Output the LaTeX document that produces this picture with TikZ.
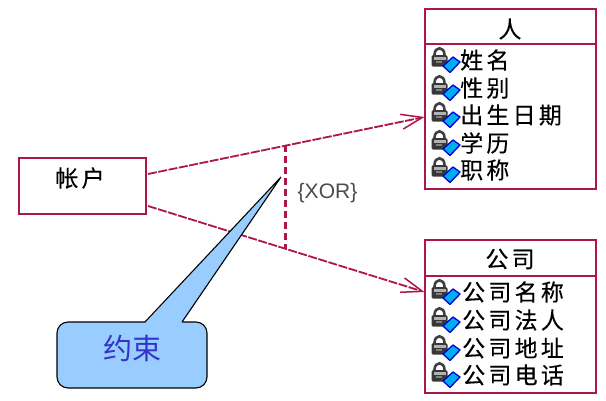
\documentclass[tikz,border=0pt]{standalone}
\usepackage{fontspec}
\usetikzlibrary{arrows.meta,calc}
\newfontfamily\cjk[LetterSpace=14,FakeBold=0.25]{Noto Sans CJK SC}
\newfontfamily\cjkname{Noto Sans CJK SC}
\setmainfont{Liberation Sans}
\definecolor{umlred}{RGB}{172,22,72}
\definecolor{calloutfill}{RGB}{153,204,255}
\definecolor{calloutblue}{RGB}{51,51,204}
\tikzset{
  x=1pt,y=-1pt,
  umlbox/.style={draw=umlred,line width=2pt,fill=white,inner sep=0pt,outer sep=0pt},
  assoc/.style={draw=umlred,line width=1.8pt,dash pattern=on 9pt off 1.5pt,-{Straight Barb[length=21pt,width=15pt,line width=1.5pt]}},
  xorline/.style={draw=umlred,line width=2.2pt,dash pattern=on 7pt off 4pt},
  attr/.style={anchor=west,inner sep=0pt,font=\cjk\fontsize{23}{23}\selectfont,text=black},
  title/.style={inner sep=0pt,font=\cjk\fontsize{23}{23}\selectfont,text=black},
  lockicon/.pic={
    \draw[black!75,line width=2.6pt] (2.5,-5) .. controls (2.5,-14) and (12.5,-14) .. (12.5,-5);
    \fill[black!78,rounded corners=1.5pt] (-0.5,-5) rectangle (15.5,6.5);
    \fill[black!30] (1.5,-3) rectangle (13.5,0);
    \fill[black!50] (4,1) rectangle (10,3);
    \draw[blue!85!black,fill=cyan,line width=1.3pt,line join=round] (11,6) -- (21,-3) -- (28,2) -- (18,12.5) -- cycle;
  }
}
\begin{document}
\begin{tikzpicture}
\useasboundingbox (0,0) rectangle (606,400);
\fill[white] (0,0) rectangle (606,400);
% classes
\node[umlbox,minimum width=127pt,minimum height=56pt] (acct) at (82.5,186) {};
\node[title] (acctname) at (80,178) {帐户};
\node[umlbox,minimum width=171pt,minimum height=35pt] (personhead) at (510,26.5) {};
\node[umlbox,minimum width=171pt,minimum height=145pt] (personbody) at (510,116.5) {};
\node[title] (personname) at (510,29) {人};
\node[umlbox,minimum width=171pt,minimum height=36pt] (companyhead) at (510,258) {};
\node[umlbox,minimum width=171pt,minimum height=117pt] (companybody) at (510,334.5) {};
\node[title] (companyname) at (510,259) {公司};
% attributes
\foreach \y/\t/\n in {60/姓名/pa,88/性别/pb,115/出生日期/pc,143/学历/pd,170/职称/pe}{
  \pic at (432,\y) {lockicon};
  \node[attr] (\n) at (460,\y) {\t};
}
\foreach \y/\t/\n in {292/公司名称/ca,320/公司法人/cb,348/公司地址/cc,375/公司电话/cd}{
  \pic at (432,\y) {lockicon};
  \node[attr] (\n) at (462,\y) {\t};
}
% connectors
\coordinate (as1) at ($(acct.east)+(2,-12)$);
\coordinate (as2) at ($(acct.east)+(2,20)$);
\coordinate (ae1) at (personbody.west |- 0,117);
\coordinate (ae2) at (companybody.west |- 0,292);
\coordinate (xa) at (285.5,145);
\coordinate (xb) at (285.5,248);
\draw[assoc] (as1) -- (ae1);
\draw[assoc] (as2) -- (ae2);
\draw[xorline] (xa) -- (xb);
\node[inner sep=0pt,font=\fontsize{21}{21}\selectfont,text=black!70] (xor) at (327.5,193) {\{XOR\}};
% callout
\coordinate (tip) at (281,177);
\draw[black,line width=1.1pt,fill=calloutfill,rounded corners=11pt] (57,322) rectangle (207,388);
\fill[calloutfill] (145,323) -- (tip) -- (182,323) -- cycle;
\draw[black,line width=1.1pt,line join=miter] (145,322) -- (tip) -- (182,322);
\node[inner sep=0pt,font=\cjkname\fontsize{29}{29}\selectfont,text=calloutblue] (note) at (132,348) {约束};
\end{tikzpicture}
\end{document}
